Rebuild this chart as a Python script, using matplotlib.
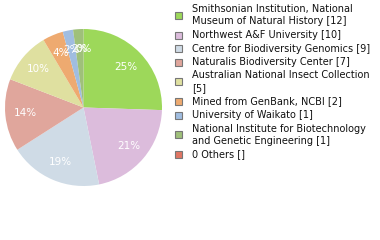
import math
import matplotlib
matplotlib.use("Agg")
import matplotlib.pyplot as plt

labels = [
    "Smithsonian Institution, National\nMuseum of Natural History [12]",
    "Northwest A&F University [10]",
    "Centre for Biodiversity Genomics [9]",
    "Naturalis Biodiversity Center [7]",
    "Australian National Insect Collection\n[5]",
    "Mined from GenBank, NCBI [2]",
    "University of Waikato [1]",
    "National Institute for Biotechnology\nand Genetic Engineering [1]",
    "0 Others []",
]
counts = [12, 10, 9, 7, 5, 2, 1, 1, 0]
colors = ["#9dd85a", "#dcbcdc", "#cfdbe6", "#e0a69c", "#dfe0a0",
          "#eeaa70", "#a0bde0", "#9fc07a", "#e07563"]

W, H = 380, 240
fig = plt.figure(figsize=(W / 100, H / 100), dpi=100)

# pie placed in pixel coords
cx, cy, r = 83.5, 107.5, 78.5
ax = fig.add_axes([(cx - r) / W, (H - cy - r) / H, 2 * r / W, 2 * r / H])


def pct(p):
    return f"{math.floor(p + 1e-9)}%"


wedges, _, autotexts = ax.pie(counts, colors=colors, startangle=90, counterclock=False,
                              autopct=pct, pctdistance=0.75,
                              textprops=dict(color="white", fontsize=7.5))
ax.set_xlim(-1, 1)
ax.set_ylim(-1, 1)
ax.set_aspect("equal")

# legend drawn by hand
y = 9
for lab, col in zip(labels, colors):
    nlines = lab.count("\n") + 1
    ymid = y + (nlines - 1) * 12.5 / 2
    fig.patches.append(plt.Rectangle((175 / W, (H - ymid - 3.5) / H), 7 / W, 7 / H,
                                     transform=fig.transFigure, facecolor=col,
                                     edgecolor="#777777", linewidth=0.8))
    for i, line in enumerate(lab.split("\n")):
        fig.text(192 / W, (H - (y + i * 12.5)) / H, line, fontsize=7,
                 va="center", ha="left", color="#111111")
    y += nlines * 12.5 + 1

fig.savefig("out.png", dpi=100)
